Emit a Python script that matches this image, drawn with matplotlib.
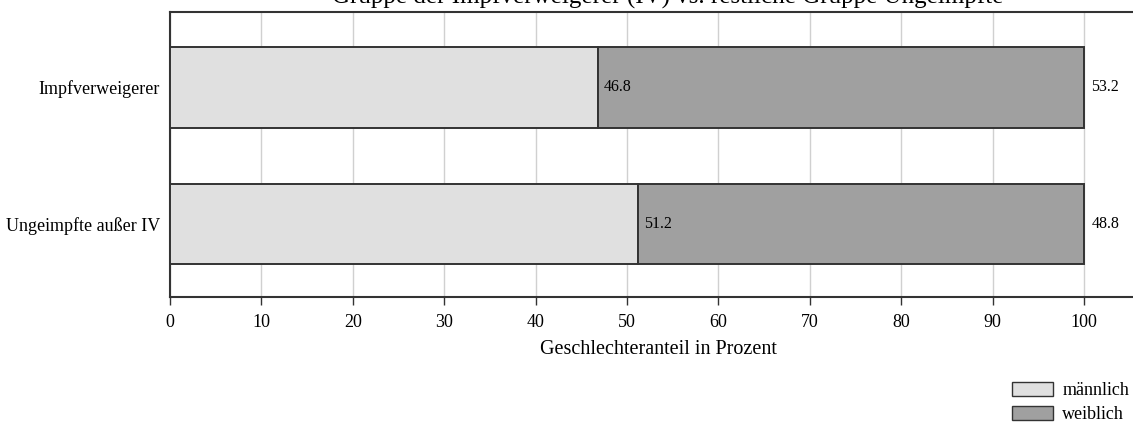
import numpy as np
import matplotlib.pyplot as plt
from matplotlib.patches import Patch

plt.rcParams['font.family'] = ['Liberation Serif', 'DejaVu Serif']

# --- Data ---
groups = ['Ungeimpfte außer IV', 'Impfverweigerer']
maennlich = [51.2, 46.8]
weiblich = [48.8, 53.2]
ticks = np.arange(0, 101, 10)

title = 'Gruppe der Impfverweigerer (IV) vs. restliche Gruppe Ungeimpfte'
xlabel = 'Geschlechteranteil in Prozent'

fig = plt.figure(figsize=(11.33, 4.24), dpi=100)
ax = fig.add_axes([0.150, 0.2995, 0.850, 0.6722])

y = np.arange(len(groups))
bh = 0.593
ax.barh(y, maennlich, height=bh, color='#e0e0e0', edgecolor='#333333', linewidth=1.4, zorder=3)
ax.barh(y, weiblich, left=maennlich, height=bh, color='#a0a0a0', edgecolor='#333333', linewidth=1.4, zorder=3)

for i in range(len(groups)):
    ax.text(maennlich[i] + 0.7, y[i], f'{maennlich[i]:.1f}', va='center', ha='left', fontsize=11.5, zorder=4)
    ax.text(maennlich[i] + weiblich[i] + 0.8, y[i], f'{weiblich[i]:.1f}', va='center', ha='left', fontsize=11.5, zorder=4)

ax.set_xlim(0, 105.36)
ax.set_ylim(-0.535, 1.553)
ax.set_xticks(ticks)
ax.set_yticks(y)
ax.set_yticklabels(groups, fontsize=13)
ax.tick_params(axis='x', labelsize=13, length=6, width=1, color='#333333', pad=6)
ax.tick_params(axis='y', length=0, pad=7)
ax.grid(axis='x', color='#d0d0d0', linewidth=1, zorder=0)
ax.set_xlabel(xlabel, fontsize=14.5)
ax.xaxis.set_label_coords(0.507, -0.152)

for s in ['left', 'bottom', 'top']:
    ax.spines[s].set_color('#333333')
    ax.spines[s].set_linewidth(1.5)
ax.spines['right'].set_visible(False)

# title sits mostly above the top edge, as in the reference
fig.text(0.589, 1 - 3.5 / 424, title, ha='center', va='baseline', fontsize=18)

handles = [Patch(facecolor='#e0e0e0', edgecolor='#333333', label='männlich'),
           Patch(facecolor='#a0a0a0', edgecolor='#333333', label='weiblich')]
fig.legend(handles=handles, loc='upper left', bbox_to_anchor=(1010 / 1133, 1 - 380 / 424), frameon=False,
           fontsize=13, handlelength=2.3, handleheight=0.85, labelspacing=0.35, handletextpad=0.5,
           borderpad=0.1, borderaxespad=0)

plt.savefig('out.png', dpi=100)
